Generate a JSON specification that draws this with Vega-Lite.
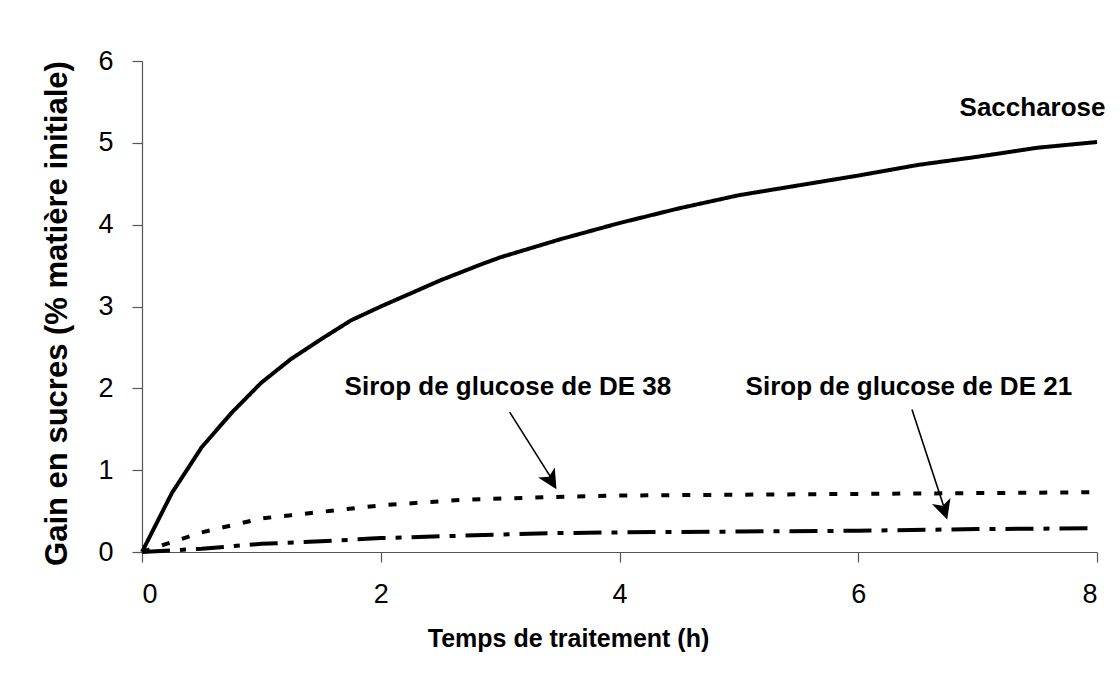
{
  "$schema": "https://vega.github.io/schema/vega-lite/v6.json",
  "autosize": "none",
  "width": 955,
  "height": 491,
  "padding": {"left": 142, "top": 61, "right": 23, "bottom": 146},
  "background": "white",
  "config": {
    "view": {"stroke": null},
    "font": "Liberation Sans",
    "axis": {
      "grid": false,
      "domainColor": "#555555",
      "domainWidth": 1.2,
      "tickColor": "#555555",
      "tickWidth": 1.2,
      "tickSize": 10,
      "labelFont": "Liberation Sans",
      "labelFontSize": 27,
      "labelColor": "black",
      "labelPadding": 19,
      "format": "d",
      "titleFont": "Liberation Sans",
      "titleFontWeight": "bold",
      "titleColor": "black"
    }
  },
  "datasets": {
    "curves": [
      {"t": 0, "gain": 0, "serie": "Saccharose"},
      {"t": 0.25, "gain": 0.72, "serie": "Saccharose"},
      {"t": 0.5, "gain": 1.28, "serie": "Saccharose"},
      {"t": 0.75, "gain": 1.7, "serie": "Saccharose"},
      {"t": 1, "gain": 2.07, "serie": "Saccharose"},
      {"t": 1.25, "gain": 2.36, "serie": "Saccharose"},
      {"t": 1.5, "gain": 2.6, "serie": "Saccharose"},
      {"t": 1.75, "gain": 2.83, "serie": "Saccharose"},
      {"t": 2, "gain": 3.0, "serie": "Saccharose"},
      {"t": 2.5, "gain": 3.32, "serie": "Saccharose"},
      {"t": 2.85, "gain": 3.52, "serie": "Saccharose"},
      {"t": 3, "gain": 3.6, "serie": "Saccharose"},
      {"t": 3.5, "gain": 3.82, "serie": "Saccharose"},
      {"t": 4, "gain": 4.02, "serie": "Saccharose"},
      {"t": 4.5, "gain": 4.2, "serie": "Saccharose"},
      {"t": 5, "gain": 4.36, "serie": "Saccharose"},
      {"t": 5.5, "gain": 4.48, "serie": "Saccharose"},
      {"t": 6, "gain": 4.6, "serie": "Saccharose"},
      {"t": 6.5, "gain": 4.73, "serie": "Saccharose"},
      {"t": 7, "gain": 4.83, "serie": "Saccharose"},
      {"t": 7.5, "gain": 4.94, "serie": "Saccharose"},
      {"t": 8, "gain": 5.01, "serie": "Saccharose"},
      {"t": 0, "gain": 0, "serie": "DE 38"},
      {"t": 0.5, "gain": 0.24, "serie": "DE 38"},
      {"t": 1, "gain": 0.41, "serie": "DE 38"},
      {"t": 1.25, "gain": 0.45, "serie": "DE 38"},
      {"t": 1.5, "gain": 0.49, "serie": "DE 38"},
      {"t": 2, "gain": 0.57, "serie": "DE 38"},
      {"t": 2.7, "gain": 0.64, "serie": "DE 38"},
      {"t": 3.4, "gain": 0.67, "serie": "DE 38"},
      {"t": 4, "gain": 0.69, "serie": "DE 38"},
      {"t": 5, "gain": 0.7, "serie": "DE 38"},
      {"t": 6, "gain": 0.71, "serie": "DE 38"},
      {"t": 7, "gain": 0.72, "serie": "DE 38"},
      {"t": 8, "gain": 0.73, "serie": "DE 38"},
      {"t": 0, "gain": 0, "serie": "DE 21"},
      {"t": 0.5, "gain": 0.04, "serie": "DE 21"},
      {"t": 1, "gain": 0.1, "serie": "DE 21"},
      {"t": 1.5, "gain": 0.13, "serie": "DE 21"},
      {"t": 2, "gain": 0.17, "serie": "DE 21"},
      {"t": 2.7, "gain": 0.2, "serie": "DE 21"},
      {"t": 3.4, "gain": 0.23, "serie": "DE 21"},
      {"t": 4, "gain": 0.24, "serie": "DE 21"},
      {"t": 5, "gain": 0.25, "serie": "DE 21"},
      {"t": 6, "gain": 0.26, "serie": "DE 21"},
      {"t": 7, "gain": 0.28, "serie": "DE 21"},
      {"t": 8, "gain": 0.29, "serie": "DE 21"}
    ],
    "labels": [
      {"t": 7.46, "gain": 5.43, "label": "Saccharose"},
      {"t": 3.065, "gain": 2.02, "label": "Sirop de glucose de DE 38"},
      {"t": 6.424, "gain": 2.02, "label": "Sirop de glucose de DE 21"}
    ]
  },
  "layer": [
    {
      "data": {"name": "curves"},
      "mark": {"type": "line", "color": "black", "strokeWidth": 4},
      "encoding": {
        "x": {
          "field": "t", "type": "quantitative",
          "scale": {"domain": [0, 8], "nice": false},
          "axis": {"values": [0, 2, 4, 6, 8], "title": "Temps de traitement (h)", "titleFontSize": 25, "titlePadding": 19, "titleX": 426}
        },
        "y": {
          "field": "gain", "type": "quantitative",
          "scale": {"domain": [0, 6], "nice": false},
          "axis": {"values": [0, 1, 2, 3, 4, 5, 6], "title": "Gain en sucres (% matière initiale)", "titleFontSize": 31, "titlePadding": 24, "titleY": 252}
        },
        "detail": {"field": "serie"},
        "strokeDash": {
          "field": "serie", "type": "nominal",
          "scale": {"domain": ["Saccharose", "DE 38", "DE 21"], "range": [[1, 0], [8, 13], [28, 10, 6, 10]]},
          "legend": null
        }
      }
    },
    {
      "data": {"name": "labels"},
      "mark": {"type": "text", "font": "Liberation Sans", "fontWeight": "bold", "fontSize": 26, "color": "black", "align": "center", "baseline": "middle"},
      "encoding": {
        "x": {"field": "t", "type": "quantitative"},
        "y": {"field": "gain", "type": "quantitative"},
        "text": {"field": "label"}
      }
    },
    {
      "data": {"values": [{"t": 3.08, "gain": 1.71, "t2": 3.43, "gain2": 0.9}, {"t": 6.45, "gain": 1.74, "t2": 6.72, "gain2": 0.54}]},
      "mark": {"type": "rule", "color": "black", "strokeWidth": 1.6},
      "encoding": {
        "x": {"field": "t", "type": "quantitative"},
        "y": {"field": "gain", "type": "quantitative"},
        "x2": {"field": "t2"},
        "y2": {"field": "gain2"}
      }
    },
    {
      "data": {"values": [{"t": 3.43, "gain": 0.87}]},
      "mark": {"type": "point", "shape": "M-1,-1L0,-0.5L1,-1L0,1Z", "filled": true, "color": "black", "size": 380, "angle": 329, "opacity": 1},
      "encoding": {
        "x": {"field": "t", "type": "quantitative"},
        "y": {"field": "gain", "type": "quantitative"}
      }
    },
    {
      "data": {"values": [{"t": 6.72, "gain": 0.51}]},
      "mark": {"type": "point", "shape": "M-1,-1L0,-0.5L1,-1L0,1Z", "filled": true, "color": "black", "size": 380, "angle": 342, "opacity": 1},
      "encoding": {
        "x": {"field": "t", "type": "quantitative"},
        "y": {"field": "gain", "type": "quantitative"}
      }
    }
  ]
}
